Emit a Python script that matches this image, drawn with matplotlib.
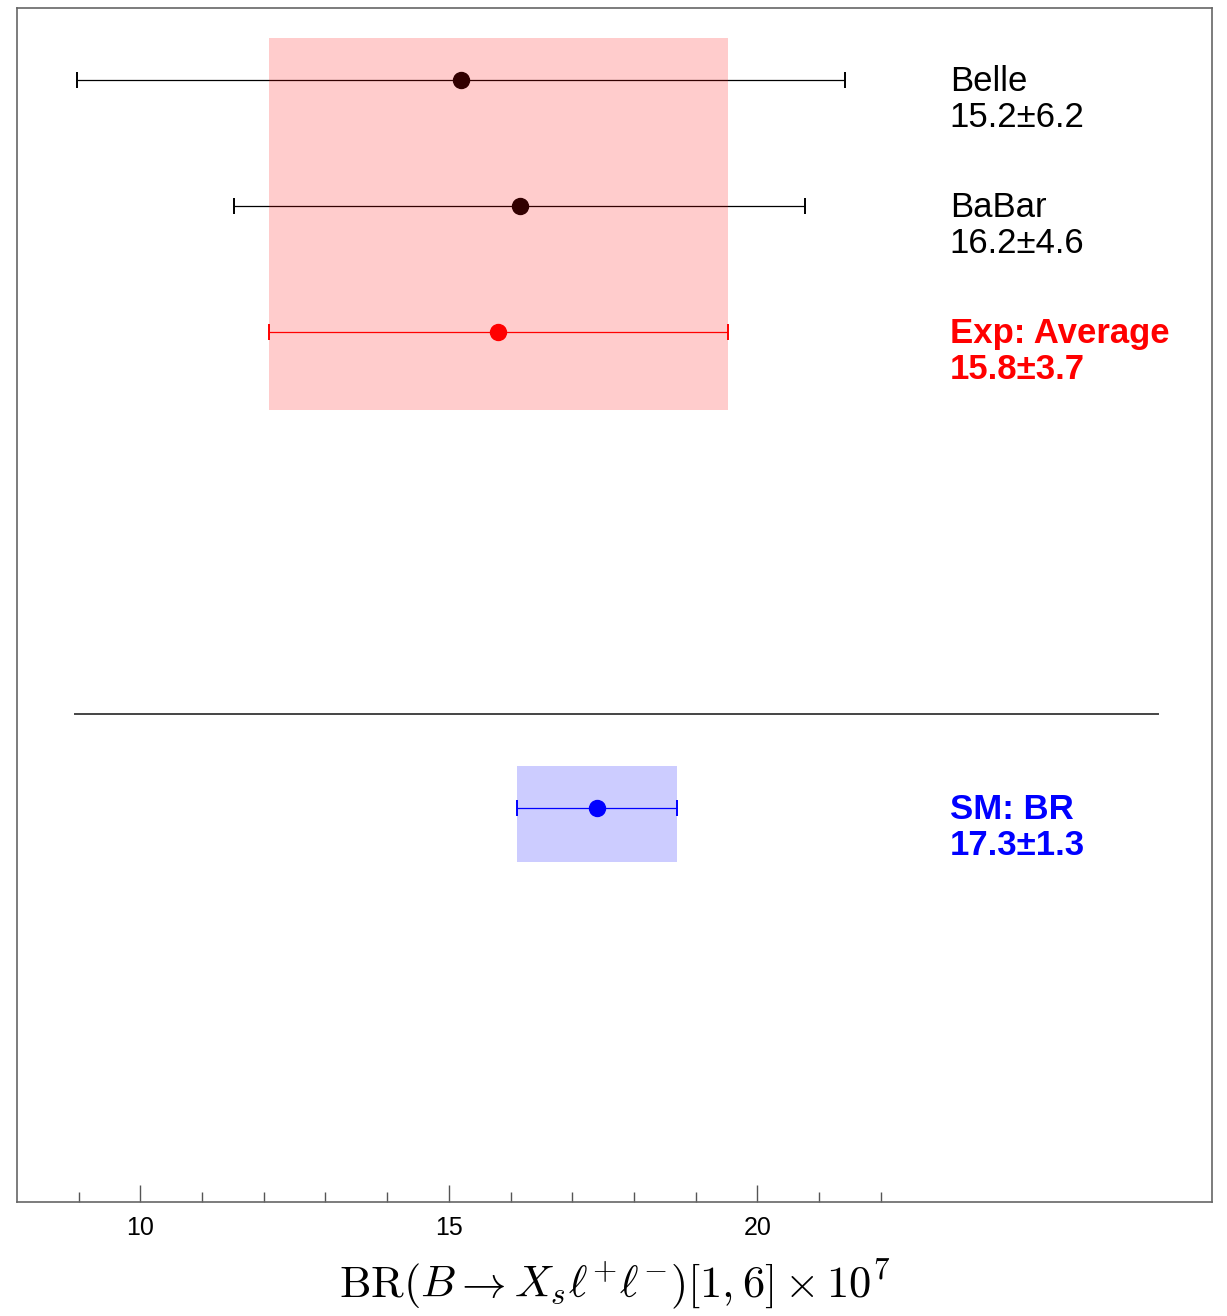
import matplotlib.pyplot as plt
from matplotlib.patches import Rectangle

plt.rcParams['font.family'] = ['Liberation Sans', 'DejaVu Sans']
plt.rcParams['mathtext.fontset'] = 'cm'

names = ['Belle', 'BaBar', 'Exp: Average', 'SM: BR']
values = [15.2, 16.15, 15.8, 17.4]
errors = [6.22, 4.63, 3.72, 1.3]
labels = ['15.2±6.2', '16.2±4.6', '15.8±3.7', '17.3±1.3']
colors = ['black', 'black', 'red', 'blue']
bold = [False, False, True, True]
rows = [1, 2, 3, 6.78]

major_ticks = [10, 15, 20]
minor_ticks = [9, 11, 12, 13, 14, 16, 17, 18, 19, 21, 22]

fig = plt.figure(figsize=(12.27, 13.16), dpi=100)
ax = fig.add_axes([0.01385, 0.08663, 0.97393, 0.90729])

for y, v, e, c in zip(rows, values, errors, colors):
    ax.errorbar(v, y, xerr=e, fmt='o', color=c, markersize=11.5,
                elinewidth=0.9, capsize=6, capthick=1.4, zorder=2)

# shaded bands for the average and the SM prediction
ax.add_patch(Rectangle((values[2] - errors[2], 0.667), 2 * errors[2], 3.619 - 0.667,
                       facecolor='red', alpha=0.2, edgecolor='none', zorder=3))
ax.add_patch(Rectangle((values[3] - errors[3], 6.444), 2 * errors[3], 7.206 - 6.444,
                       facecolor='blue', alpha=0.2, edgecolor='none', zorder=3))

# separator between experiment and theory
ax.plot([8.94, 26.5], [6.03, 6.03], color='#444444', lw=1.4)

# labels: baseline of the second line sits a bit below the marker row
for y, n, lab, c, b in zip(rows, names, labels, colors, bold):
    ax.text(23.12, y + 0.37, n + '\n' + lab, color=c, fontsize=25,
            fontweight='bold' if b else 'normal', va='baseline', ha='left',
            linespacing=1.1)

ax.set_xlim(8.0, 27.37)
ax.set_ylim(9.905, 0.4286)
ax.set_yticks([])
ax.set_xticks(major_ticks)
ax.set_xticks(minor_ticks, minor=True)
ax.tick_params(axis='x', which='major', direction='in', length=12, width=1,
               color='#555555', labelsize=18, pad=10)
ax.tick_params(axis='x', which='minor', direction='in', length=7, width=1,
               color='#555555')
for s in ax.spines.values():
    s.set_color('#666666')
    s.set_linewidth(1.2)

ax.set_xlabel(r'$\mathrm{BR}(B\to X_s\ell^{+}\ell^{-})[1,6]\times 10^7$',
              fontsize=32, labelpad=13)

fig.savefig('out.png', dpi=100)
